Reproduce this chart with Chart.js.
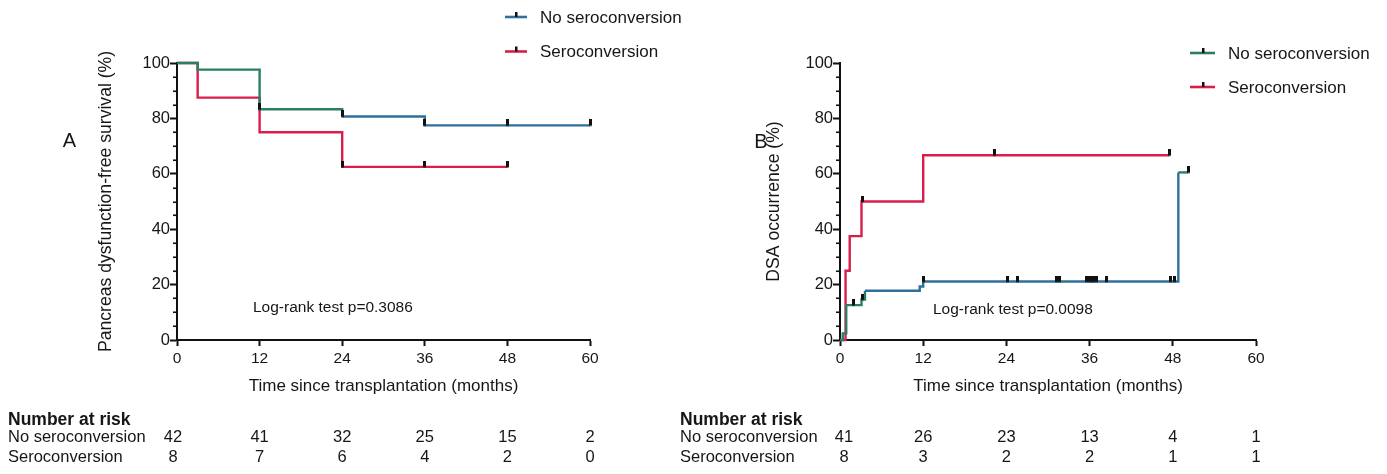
<!DOCTYPE html>
<html><head><meta charset="utf-8">
<script src="https://cdn.jsdelivr.net/npm/chart.js@4.4.1/dist/chart.umd.min.js"></script>
<style>
html,body{margin:0;padding:0;background:#fff;width:1387px;height:474px;overflow:hidden}
#ca{position:absolute;left:0;top:0}
#cb{position:absolute;left:670px;top:0}
</style></head><body>
<canvas id="ca" width="690" height="474"></canvas>
<canvas id="cb" width="717" height="474"></canvas>
<script>
// ---------- data ----------
const timeTicks = [0, 12, 24, 36, 48, 60];
const yTicks = [0, 20, 40, 60, 80, 100];
const groups = ['No seroconversion', 'Seroconversion'];

// Panel A: pancreas dysfunction-free survival (%)
const aNoTime = [0, 3, 12, 24, 36, 60];
const aNoSurv = [100, 97.6, 83.3, 80.7, 77.5, 77.5];
const aNoCensT = [12, 24, 36, 48, 60];
const aNoCensV = [83.3, 80.7, 77.5, 77.5, 77.5];
const aSeTime = [0, 3, 12, 24, 48];
const aSeSurv = [100, 87.5, 75, 62.5, 62.5];
const aSeCensT = [24, 36, 48];
const aSeCensV = [62.5, 62.5, 62.5];
const aRiskNo = [42, 41, 32, 25, 15, 2];
const aRiskSe = [8, 7, 6, 4, 2, 0];

// Panel B: DSA occurrence (%)
const bNoTime = [0, 0.4, 0.9, 3.1, 3.6, 11.5, 12, 48.8, 50.2];
const bNoOcc = [0, 2.4, 12.6, 14.6, 17.8, 19.3, 21.1, 60.5, 60.5];
const bNoCensT = [1.9, 3.3, 12, 24.2, 25.6, 31.2, 31.6, 35.6, 36.0, 36.3, 36.6, 37.0, 38.4, 47.7, 48.2, 50.2];
const bNoCensV = [12.6, 14.6, 21.1, 21.1, 21.1, 21.1, 21.1, 21.1, 21.1, 21.1, 21.1, 21.1, 21.1, 21.1, 21.1, 60.5];
const bSeTime = [0, 0.8, 1.4, 3.1, 12, 47.5];
const bSeOcc = [0, 25, 37.5, 50, 66.7, 66.7];
const bSeCensT = [3.2, 22.3, 47.5];
const bSeCensV = [50, 66.7, 66.7];
const bRiskNo = [41, 26, 23, 13, 4, 1];
const bRiskSe = [8, 3, 2, 2, 1, 1];

// ---------- styling ----------
const FONT = "'Liberation Sans', Arial, Helvetica, sans-serif";
const TXT = '#161616';
const RED = '#d81f4b';
const BLUE = '#2f6f9c';
const GREEN = '#2a7e63';

function pts(t, v) { return t.map((x, i) => ({x: x, y: v[i]})); }

function tickImg() {
  const c = document.createElement('canvas');
  c.width = 3; c.height = 12;
  const g = c.getContext('2d');
  g.fillStyle = '#111';
  g.fillRect(0, 0, 3, 6.5);
  return c;
}
const TICK = tickImg();

function censorSet(t, v) {
  return {data: pts(t, v), showLine: false, pointStyle: TICK, pointRadius: 5,
          pointHoverRadius: 5, clip: false, borderColor: '#111', backgroundColor: '#111'};
}
function kmSet(t, v, colorFn) {
  return {data: pts(t, v), stepped: true, pointRadius: 0, borderWidth: 2.4,
          borderColor: colorFn({p0: {parsed: {x: 0}}}), segment: {borderColor: colorFn},
          fill: false, clip: 3};
}

const extras = {
  id: 'extras',
  afterDraw(chart, args, o) {
    const ctx = chart.ctx, xs = chart.scales.x, ys = chart.scales.y, ca = chart.chartArea;
    ctx.save();
    // minor y ticks
    ctx.strokeStyle = '#111'; ctx.lineWidth = 1.6;
    for (let k = 0; k < yTicks.length - 1; k++) {
      for (let v = yTicks[k] + 5; v < yTicks[k + 1]; v += 5) {
        const py = Math.round(ys.getPixelForValue(v)) + 0.25;
        ctx.beginPath(); ctx.moveTo(ca.left - 4, py); ctx.lineTo(ca.left, py); ctx.stroke();
      }
    }
    // panel letter
    ctx.fillStyle = TXT; ctx.textBaseline = 'middle'; ctx.textAlign = 'center';
    ctx.font = '20px ' + FONT;
    ctx.fillText(o.letter, o.letterX, o.letterY);
    // log-rank
    ctx.textAlign = 'left';
    ctx.font = '15.5px ' + FONT;
    ctx.fillText(o.logrank, o.lrX, o.lrY);
    // legend
    ctx.font = '17px ' + FONT;
    o.legend.items.forEach((it, i) => {
      const y = o.legend.y + i * o.legend.dy;
      ctx.strokeStyle = it.color; ctx.lineWidth = 2.6;
      ctx.beginPath(); ctx.moveTo(o.legend.x, y); ctx.lineTo(o.legend.x + o.legend.len, y); ctx.stroke();
      const cx = Math.round(o.legend.x + o.legend.len / 2);
      ctx.fillStyle = '#111'; ctx.fillRect(cx - 1, y - 5, 2.5, 5);
      ctx.fillStyle = TXT;
      ctx.fillText(it.label, o.legend.x + o.legend.len + o.legend.gap, y + 1);
    });
    // risk table
    ctx.textBaseline = 'alphabetic';
    ctx.font = 'bold 17.5px ' + FONT;
    ctx.fillText('Number at risk', o.risk.x, 425);
    ctx.font = '16.5px ' + FONT;
    const rows = [[groups[0], o.risk.no, 442], [groups[1], o.risk.se, 462]];
    rows.forEach(r => {
      ctx.textAlign = 'left';
      ctx.fillText(r[0], o.risk.x, r[2]);
      ctx.textAlign = 'center';
      r[1].forEach((n, i) => {
        const px = xs.getPixelForValue(timeTicks[i]) + (i === 0 ? o.risk.firstOff : 0);
        ctx.fillText(String(n), px, r[2]);
      });
    });
    ctx.restore();
  }
};

function makeChart(id, datasets, yTitle, pad, yWidth, extraOpts) {
  return new Chart(document.getElementById(id), {
    type: 'line',
    data: {datasets: datasets},
    plugins: [extras],
    options: {
      responsive: false, animation: false, devicePixelRatio: 1,
      layout: {padding: pad},
      plugins: {legend: {display: false}, tooltip: {enabled: false}, extras: extraOpts},
      scales: {
        x: {
          type: 'linear', min: 0, max: 60,
          afterBuildTicks: s => { s.ticks = timeTicks.map(v => ({value: v})); },
          afterFit: s => { s.height = 57; },
          ticks: {font: {family: FONT, size: 15.5}, color: TXT, padding: 3, maxRotation: 0, autoSkip: false},
          grid: {drawOnChartArea: false, drawTicks: true, tickLength: 6, tickColor: '#111', tickWidth: 2},
          border: {display: true, color: '#111', width: 2},
          title: {display: true, text: 'Time since transplantation (months)', font: {family: FONT, size: 17}, color: TXT, padding: 0}
        },
        y: {
          type: 'linear', min: 0, max: 100,
          afterBuildTicks: s => { s.ticks = yTicks.map(v => ({value: v})); },
          afterFit: s => { s.width = yWidth; },
          ticks: {font: {family: FONT, size: 16.5}, color: TXT, padding: 0},
          grid: {drawOnChartArea: false, drawTicks: true, tickLength: 7, tickColor: '#111', tickWidth: 2},
          border: {display: true, color: '#111', width: 2},
          title: {display: true, text: yTitle, font: {family: FONT, size: 17.6}, color: TXT, padding: 0}
        }
      }
    }
  });
}

// Panel A
makeChart('ca', [
  censorSet(aNoCensT, aNoCensV),
  censorSet(aSeCensT, aSeCensV),
  kmSet(aNoTime, aNoSurv, c => (c.p0.parsed.x < 24 ? GREEN : BLUE)),
  kmSet(aSeTime, aSeSurv, c => RED)
], 'Pancreas dysfunction-free survival (%)',
  {left: 96, top: 63, right: 100, bottom: 77}, 81,
  {letter: 'A', letterX: 69.5, letterY: 141,
   logrank: 'Log-rank test p=0.3086', lrX: 253, lrY: 308,
   legend: {x: 505, y: 17, dy: 34.5, len: 22, gap: 13,
            items: [{label: groups[0], color: BLUE}, {label: groups[1], color: RED}]},
   risk: {x: 8, no: aRiskNo, se: aRiskSe, firstOff: -4}});

// Panel B
makeChart('cb', [
  censorSet(bNoCensT, bNoCensV),
  censorSet(bSeCensT, bSeCensV),
  kmSet(bNoTime, bNoOcc, c => ((c.p0.parsed.x >= 3.6 && c.p0.parsed.x < 48) ? BLUE : GREEN)),
  kmSet(bSeTime, bSeOcc, c => RED)
], 'DSA occurrence (%)',
  {left: 94, top: 63, right: 131, bottom: 77}, 76,
  {letter: 'B', letterX: 91, letterY: 142,
   logrank: 'Log-rank test p=0.0098', lrX: 263, lrY: 310,
   legend: {x: 520, y: 53, dy: 34, len: 25, gap: 13,
            items: [{label: groups[0], color: GREEN}, {label: groups[1], color: RED}]},
   risk: {x: 10, no: bRiskNo, se: bRiskSe, firstOff: 4}});
</script>
</body></html>
